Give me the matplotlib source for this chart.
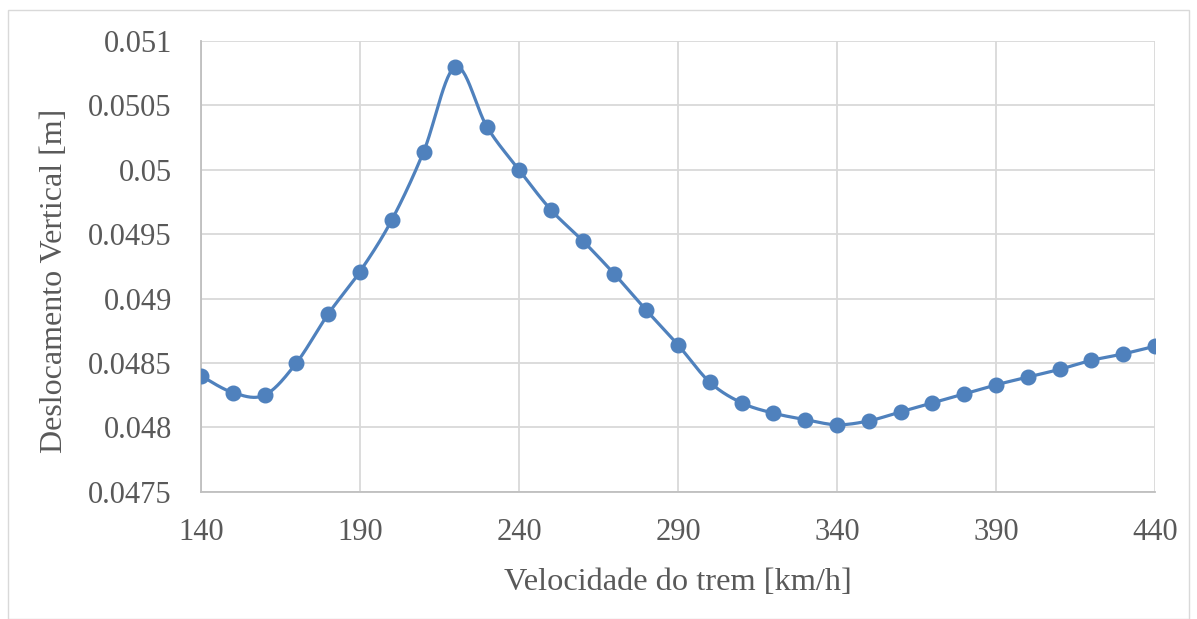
import numpy as np
import matplotlib
matplotlib.use("Agg")
import matplotlib.pyplot as plt
from matplotlib.patches import Rectangle
from matplotlib.ticker import FuncFormatter, MultipleLocator

# Train speed [km/h] and vertical displacement [m]
velocidade = [140, 150, 160, 170, 180, 190, 200, 210, 220, 230, 240, 250,
              260, 270, 280, 290, 300, 310, 320, 330, 340, 350, 360, 370,
              380, 390, 400, 410, 420, 430, 440]
deslocamento = [0.04840, 0.04827, 0.04825, 0.04850, 0.04888, 0.04921,
                0.04961, 0.05014, 0.05080, 0.05033, 0.05000, 0.04969,
                0.04945, 0.04919, 0.04891, 0.04864, 0.04835, 0.04819,
                0.04811, 0.04806, 0.04802, 0.04805, 0.04812, 0.04819,
                0.04826, 0.04833, 0.04839, 0.04845, 0.04852, 0.04857,
                0.04863]

x_ticks = [140, 190, 240, 290, 340, 390, 440]
x_label = "Velocidade do trem [km/h]"
y_label = "Deslocamento Vertical [m]"


def smooth_curve(xs, ys, n=30):
    """Cubic Bezier smoothing through every point (Catmull-Rom style)."""
    p = np.column_stack([xs, ys]).astype(float)
    ext = np.vstack([p[0], p, p[-1]])
    t = np.linspace(0, 1, n)[:, None]
    out = []
    for i in range(len(p) - 1):
        p0, p1, p2, p3 = ext[i], ext[i + 1], ext[i + 2], ext[i + 3]
        c1 = p1 + (p2 - p0) / 6.0
        c2 = p2 - (p3 - p1) / 6.0
        seg = ((1 - t) ** 3) * p1 + 3 * ((1 - t) ** 2) * t * c1 \
            + 3 * (1 - t) * t ** 2 * c2 + t ** 3 * p2
        out.append(seg if i == 0 else seg[1:])
    out = np.vstack(out)
    return out[:, 0], out[:, 1]


plt.rcParams['font.family'] = ['Liberation Serif', 'DejaVu Serif']

fig = plt.figure(figsize=(11.97, 6.19), dpi=100)
ax = fig.add_axes([201 / 1197, 1 - 491.7 / 619, (1155 - 201) / 1197, (491.7 - 41) / 619])

line_color = '#4f81bd'
sx, sy = smooth_curve(velocidade, deslocamento)
ax.plot(sx, sy, color=line_color, lw=2.3, solid_capstyle='round', zorder=3)
ax.plot(velocidade, deslocamento, 'o', color=line_color, ms=10.5, zorder=4)

ax.set_xlim(140, 440)
ax.set_ylim(0.0475, 0.051)
ax.set_xticks(x_ticks)
ax.yaxis.set_major_locator(MultipleLocator(0.0005))
ax.yaxis.set_major_formatter(FuncFormatter(lambda v, _: '{:g}'.format(round(v, 6))))

grid_color = '#d9d9d9'
ax.grid(True, color=grid_color, lw=1.3, zorder=0)
ax.set_axisbelow(True)
for side in ('top', 'right'):
    ax.spines[side].set_visible(False)
for side in ('left', 'bottom'):
    ax.spines[side].set_color('#bfbfbf')
    ax.spines[side].set_linewidth(1.3)

text_color = '#595959'
ax.tick_params(axis='both', length=0, labelsize=22, labelcolor=text_color)
ax.tick_params(axis='y', pad=21)
ax.tick_params(axis='x', pad=19)

ax.set_xlabel(x_label, fontsize=23.3, color=text_color, labelpad=15)
ax.set_ylabel(y_label, fontsize=23, color=text_color, labelpad=14)
ax.yaxis.label.set_y(0.4675)

# Outer chart border
fig.patches.append(Rectangle((8 / 1197, 0), (1189 - 8) / 1197, 1 - 10 / 619,
                             transform=fig.transFigure, fill=False,
                             edgecolor='#d9d9d9', lw=1.0))

fig.savefig('out.png', dpi=100, facecolor='white')
